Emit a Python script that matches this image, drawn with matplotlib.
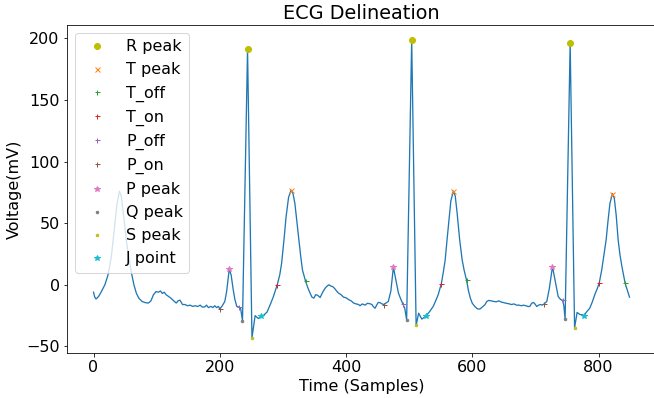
import matplotlib
matplotlib.use("Agg")
import matplotlib.pyplot as plt

plt.rcParams['font.family'] = ['DejaVu Sans']
plt.rcParams['font.size'] = 16

# ECG trace (sample index, mV)
time = [0, 2, 4, 8, 12, 18, 23, 28, 33, 37, 41, 44, 48, 52, 56, 60, 64, 68, 72, 77,
        82, 87, 91, 95, 99, 103, 106, 109, 112, 115, 119, 123, 127, 131, 134, 137, 141,
        145, 149, 153, 157, 161, 165, 169, 172, 176, 179, 182, 186, 189, 192, 195, 198,
        200, 204, 208, 211, 215, 218, 221, 224, 227, 230, 233, 236, 244, 251, 256, 261,
        266, 270, 275, 280, 285, 291, 295, 298, 302, 305, 309, 313, 316, 319, 322, 325,
        328, 331, 336, 340, 343, 346, 349, 352, 355, 359, 363, 367, 370, 373, 376, 379,
        382, 385, 388, 392, 396, 400, 404, 408, 412, 416, 420, 422, 426, 430, 434, 438,
        441, 443, 446, 449, 451, 454, 457, 460, 464, 467, 471, 475, 479, 483, 487, 490,
        493, 496, 504, 511, 515, 520, 526, 532, 538, 542, 546, 551, 554, 557, 560, 563,
        566, 570, 573, 576, 580, 584, 587, 591, 594, 597, 600, 604, 608, 612, 616, 620,
        623, 626, 630, 634, 638, 642, 646, 650, 654, 658, 662, 666, 670, 674, 678, 681,
        685, 688, 691, 694, 697, 700, 702, 705, 708, 711, 714, 718, 722, 727, 731, 736,
        740, 743, 745, 747, 755, 762, 766, 770, 774, 777, 781, 786, 790, 794, 798, 801,
        805, 809, 812, 815, 818, 822, 825, 828, 831, 834, 837, 842, 846, 849]
voltage = [-6, -10, -11.5, -9.5, -6, 0, 8, 22, 45, 65, 76, 72, 55, 36, 22, 10, 0, -7, -11, -13.5,
           -14.5, -14.8, -13, -8, -5.5, -6, -5, -7, -6, -8, -9.5, -11, -13, -14.8, -13, -12.5, -16,
           -16, -17, -16.5, -17.5, -17, -17.6, -16.5, -18, -18, -16.5, -18.5, -17.5, -18.5, -17, -18.5, -17.5,
           -19.7, -17, -13.5, -5, 12.7, 8, -3, -12, -17.6, -18, -19, -29, 191, -43, -25, -27.3,
           -25.7, -24.5, -22, -16, -9.5, 0, 8, 17.6, 38, 55, 71, 76.8, 74, 66, 52, 38,
           24, 12, 2.7, -3, -6.7, -10, -10.8, -8, -8.5, -10.3, -6, -2.7, -1, 0, -1, -1.5,
           -3, -5, -6.7, -8, -10, -10.5, -12, -13, -14.8, -15.5, -16, -17, -15.5, -16.5, -15, -15.4,
           -16, -17.6, -19, -16, -14.3, -14.5, -15.5, -16, -14.5, -13.5, -5, 14.3, 4, -6.7, -12, -15.4,
           -19, -28.4, 198.7, -33, -23, -27.8, -25.7, -22, -17.6, -13, -8, 1, 10, 20, 36.5, 52,
           68, 76, 72, 58, 36.5, 20, 12, 3.5, -5, -11, -15, -17.6, -19.5, -19.7, -18, -16.2,
           -13.5, -12.7, -13, -13.5, -13.8, -13, -14, -14.5, -15, -15.4, -16, -15.5, -16.5, -16.5, -17, -16.5,
           -17, -17.6, -17.6, -15, -14.3, -16, -17.6, -16.5, -16, -16.5, -15.4, -13.5, -3, 14.8, 4, -9.5,
           -12, -12.5, -17, -27.8, 196, -35, -22.4, -24, -24.3, -25, -22, -19, -14, -8, -3, 1.4,
           12, 25.7, 36.5, 52, 66, 74, 70, 56, 36.5, 24, 14.8, 1.4, -5, -10]

# Delineation points
r_x = [244, 504, 755]
r_y = [191, 198.7, 196]
tpk_x = [313, 570, 822]
tpk_y = [76.8, 76, 74]
toff_x = [336, 591, 842]
toff_y = [2.7, 3.5, 1.4]
ton_x = [291, 551, 801]
ton_y = [0, 1, 1.4]
poff_x = [230, 490, 743]
poff_y = [-18, -15.4, -12.5]
pon_x = [200, 460, 714]
pon_y = [-19.7, -16, -15.4]
ppk_x = [215, 475, 727]
ppk_y = [12.7, 14.3, 14.8]
q_x = [236, 496, 747]
q_y = [-29, -28.4, -27.8]
s_x = [251, 511, 762]
s_y = [-43, -33, -35]
j_x = [266, 526, 777]
j_y = [-25.7, -25.7, -25]

fig = plt.figure(figsize=(654 / 72, 398 / 72), dpi=72)
ax = fig.add_axes([66.7 / 654, (398 - 352.7) / 398, (656.3 - 66.7) / 654, (352.7 - 25) / 398])

ax.plot(time, voltage, linewidth=1.3)
ax.plot(r_x, r_y, 'yo', markersize=6, label='R peak')
ax.plot(tpk_x, tpk_y, 'x', markersize=5, label='T peak')
ax.plot(toff_x, toff_y, '+', markersize=5, label='T_off')
ax.plot(ton_x, ton_y, '+', markersize=5, label='T_on')
ax.plot(poff_x, poff_y, '+', markersize=5, label='P_off')
ax.plot(pon_x, pon_y, '+', markersize=5, label='P_on')
ax.plot(ppk_x, ppk_y, '*', markersize=6, label='P peak')
ax.plot(q_x, q_y, '.', markersize=5, label='Q peak')
ax.plot(s_x, s_y, '.', markersize=5, label='S peak')
ax.plot(j_x, j_y, '*', markersize=6, label='J point')

ax.set_title('ECG Delineation')
ax.set_xlabel('Time (Samples)')
ax.set_ylabel('Voltage(mV)')
ax.legend(loc='upper left')

fig.savefig('out.png', dpi=72)
